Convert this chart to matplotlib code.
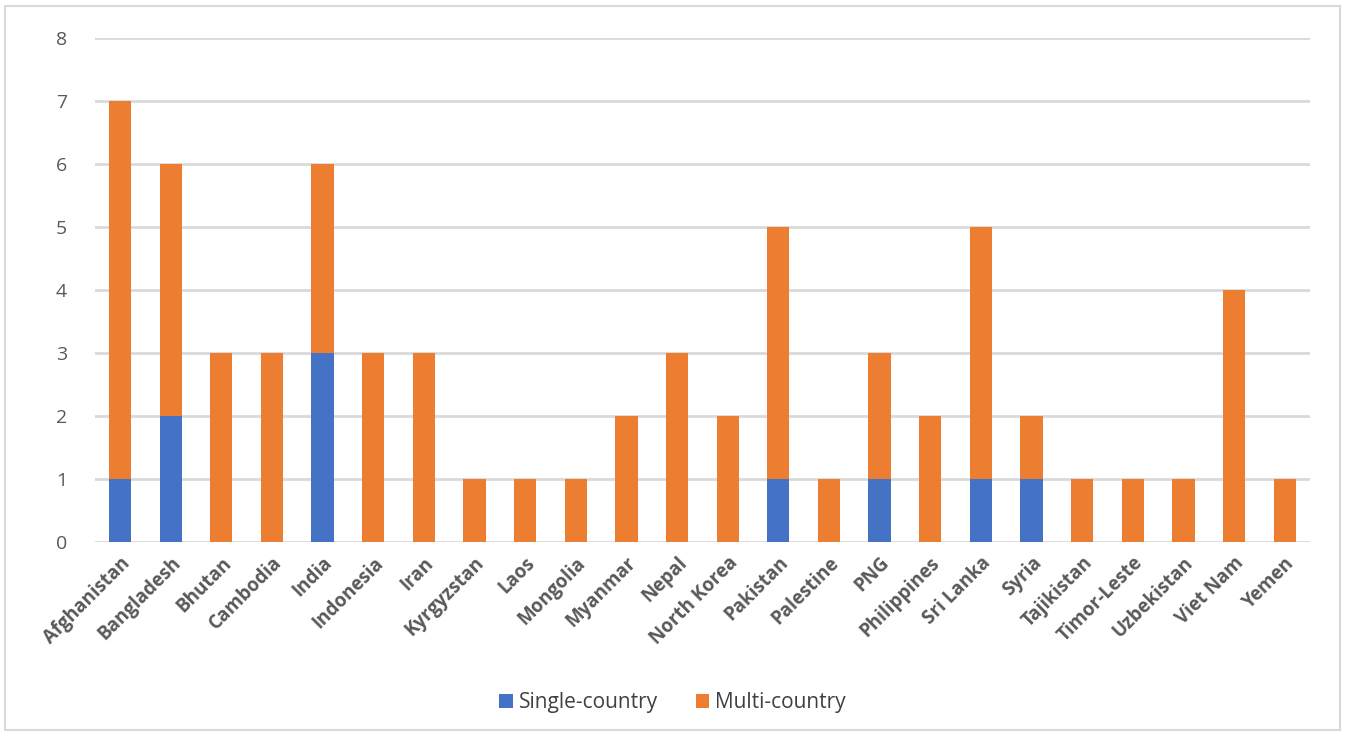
import numpy as np
import matplotlib.pyplot as plt
from matplotlib.patches import Rectangle

countries = ['Afghanistan', 'Bangladesh', 'Bhutan', 'Cambodia', 'India', 'Indonesia',
             'Iran', 'Kyrgyzstan', 'Laos', 'Mongolia', 'Myanmar', 'Nepal',
             'North Korea', 'Pakistan', 'Palestine', 'PNG', 'Philippines', 'Sri Lanka',
             'Syria', 'Tajikistan', 'Timor-Leste', 'Uzbekistan', 'Viet Nam', 'Yemen']
single = [1, 2, 0, 0, 3, 0, 0, 0, 0, 0, 0, 0, 0, 1, 0, 1, 0, 1, 1, 0, 0, 0, 0, 0]
multi = [6, 4, 3, 3, 3, 3, 3, 1, 1, 1, 2, 3, 2, 4, 1, 2, 2, 4, 1, 1, 1, 1, 4, 1]

plt.rcParams['font.family'] = ['Open Sans', 'DejaVu Sans']

fig = plt.figure(figsize=(13.45, 7.36), dpi=100)
ax = fig.add_axes([0.0704, 0.2636, 0.9036, 0.6848])

x = np.arange(len(countries))
ax.bar(x, single, width=0.44, color='#4472C4', label='Single-country', zorder=3)
ax.bar(x, multi, width=0.44, bottom=single, color='#ED7D31', label='Multi-country', zorder=3)

ax.set_xlim(-0.5, len(countries) - 0.5)
ax.set_ylim(0, 8)
ax.set_yticks(range(0, 9))
ax.grid(axis='y', color='#D9D9D9', linewidth=2, zorder=0)
for s in ax.spines.values():
    s.set_visible(False)
ax.tick_params(axis='both', length=0)
ax.tick_params(axis='y', labelsize=14, labelcolor='#595959', pad=20)
ax.set_xticks(x)
ax.set_xticklabels(countries, rotation=45, ha='right', rotation_mode='anchor',
                   fontsize=13.5, fontweight='bold', color='#595959')
ax.tick_params(axis='x', pad=8)

fig.legend(loc='center', bbox_to_anchor=(0.5, 0.045), ncol=2, frameon=False,
           fontsize=15, labelcolor='#404040', handlelength=0.65, handleheight=0.65,
           handletextpad=0.3, columnspacing=1.8)

fig.patches.append(Rectangle((5 / 1345, 6 / 736), 1335 / 1345, 724 / 736,
                             transform=fig.transFigure, fill=False,
                             edgecolor='#D9D9D9', linewidth=1.5))

fig.savefig('out.png', dpi=100)
